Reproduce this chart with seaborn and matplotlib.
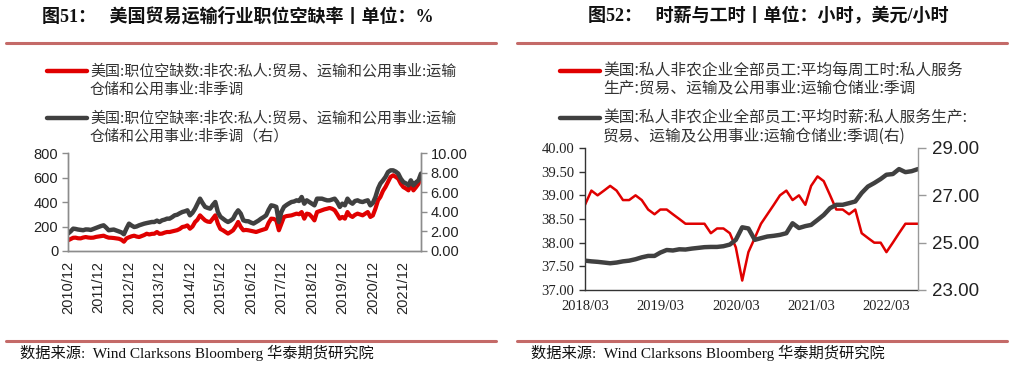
import numpy as np
import pandas as pd
import matplotlib
matplotlib.use("Agg")
import matplotlib.pyplot as plt
import matplotlib.dates as mdates
from matplotlib.lines import Line2D
import seaborn as sns

# ---------------- data ----------------
# left: monthly, 2010/12 .. 2022/07
openings_start = "2010-12-01"
openings = [
    87, 98, 108, 109, 104, 103, 110, 114, 110, 108, 109, 115,
    118, 122, 125, 116, 109, 108, 106, 103, 100, 92, 76, 103,
    112, 120, 125, 118, 114, 122, 130, 141, 135, 140, 141, 155,
    140, 142, 150, 155, 155, 160, 165, 170, 180, 196, 200, 209,
    182, 200, 237, 255, 291, 270, 250, 240, 237, 265, 291, 223,
    180, 169, 155, 142, 155, 169, 200, 237, 196, 169, 172, 169,
    165, 160, 155, 162, 169, 175, 182, 230, 264, 262, 250, 169,
    223, 278, 285, 288, 291, 298, 305, 300, 318, 264, 305, 300,
    278, 250, 318, 325, 332, 340, 345, 351, 345, 332, 300, 264,
    278, 264, 318, 290, 278, 295, 305, 298, 291, 305, 318, 278,
    290, 346, 414, 441, 490, 522, 563, 604, 618, 605, 590, 549,
    522, 510, 495, 549, 495, 520, 549, 604,
]
vacancy_rate = [
    1.78, 2.00, 2.28, 2.25, 2.19, 2.15, 2.12, 2.20, 2.19, 2.15, 2.25, 2.35,
    2.45, 2.55, 2.62, 2.40, 2.12, 2.15, 2.19, 2.10, 2.00, 1.90, 1.71, 2.30,
    2.79, 2.60, 2.45, 2.50, 2.62, 2.70, 2.79, 2.85, 2.90, 2.96, 2.96, 3.10,
    2.96, 3.13, 3.20, 3.30, 3.30, 3.45, 3.64, 3.70, 3.85, 3.98, 4.05, 4.15,
    3.64, 3.90, 4.32, 4.80, 5.34, 4.90, 4.50, 4.40, 4.32, 4.70, 5.00, 3.98,
    3.50, 3.30, 3.10, 2.96, 3.10, 3.30, 3.80, 4.15, 3.81, 3.13, 3.05, 3.03,
    2.90, 2.80, 2.96, 3.10, 3.30, 3.45, 3.64, 4.20, 4.66, 4.60, 4.50, 2.96,
    3.98, 4.50, 4.70, 4.85, 5.00, 5.05, 5.17, 5.10, 5.51, 4.83, 5.17, 5.00,
    4.83, 4.66, 5.34, 5.34, 5.34, 5.25, 5.17, 5.17, 5.25, 5.34, 5.00, 4.50,
    4.83, 4.66, 5.34, 5.00, 4.83, 5.10, 5.17, 5.05, 5.00, 5.10, 5.17, 4.66,
    4.90, 5.51, 6.37, 6.88, 7.20, 7.55, 8.06, 8.23, 8.23, 8.10, 7.90, 7.38,
    7.04, 6.90, 6.70, 7.21, 6.70, 7.00, 7.21, 7.90,
]
left_ticks = ["2010/12", "2011/12", "2012/12", "2013/12", "2014/12", "2015/12",
              "2016/12", "2017/12", "2018/12", "2019/12", "2020/12", "2021/12"]

# right: monthly, 2018/03 .. 2022/08
hours_start = "2018-03-01"
weekly_hours = [
    38.8, 39.1, 39.0, 39.1, 39.2, 39.1, 38.9, 38.9, 39.0, 38.9, 38.7, 38.6,
    38.7, 38.7, 38.6, 38.5, 38.4, 38.4, 38.4, 38.4, 38.2, 38.3, 38.3, 38.2,
    37.9, 37.2, 37.8, 38.1, 38.4, 38.6, 38.8, 39.0, 39.1, 38.9, 39.0, 38.8,
    39.2, 39.4, 39.3, 39.0, 38.7, 38.7, 38.6, 38.7, 38.2, 38.1, 38.0, 38.0,
    37.8, 38.0, 38.2, 38.4, 38.4, 38.4,
]
hourly_wage = [
    24.24, 24.21, 24.19, 24.16, 24.13, 24.16, 24.21, 24.24, 24.30, 24.38, 24.44, 24.44,
    24.58, 24.69, 24.67, 24.72, 24.71, 24.75, 24.78, 24.81, 24.82, 24.82, 24.85, 24.92,
    25.12, 25.65, 25.60, 25.12, 25.19, 25.26, 25.29, 25.33, 25.40, 25.82, 25.62, 25.70,
    25.75, 25.96, 26.17, 26.46, 26.60, 26.60, 26.67, 26.74, 27.10, 27.37, 27.52, 27.69,
    27.87, 27.90, 28.11, 27.98, 28.02, 28.11,
]
right_ticks = ["2018/03", "2019/03", "2020/03", "2021/03", "2022/03"]

title_left = "图51：   美国贸易运输行业职位空缺率丨单位：%"
title_right = "图52：   时薪与工时丨单位：小时，美元/小时"
legend_left = [["美国:职位空缺数:非农:私人:贸易、运输和公用事业:运输", "仓储和公用事业:非季调"],
               ["美国:职位空缺率:非农:私人:贸易、运输和公用事业:运输", "仓储和公用事业:非季调（右）"]]
legend_right = [["美国:私人非农企业全部员工:平均每周工时:私人服务", "生产:贸易、运输及公用事业:运输仓储业:季调"],
                ["美国:私人非农企业全部员工:平均时薪:私人服务生产:", "贸易、运输及公用事业:运输仓储业:季调(右)"]]
source = "数据来源:  Wind Clarksons Bloomberg 华泰期货研究院"

RED = "#e00000"
DARK = "#404040"
RULE = "#c46a68"

sns.set_style("white")
plt.rcParams["font.family"] = ["Liberation Sans", "Noto Sans CJK SC"]
CJK = ["Noto Sans CJK SC", "DejaVu Sans"]
SERIF = ["Liberation Serif", "Noto Sans CJK SC"]
SANS = ["Liberation Sans", "Noto Sans CJK SC"]

W, H = 1014, 367
fig = plt.figure(figsize=(W / 100, H / 100), dpi=100)


def box(x0, y0, x1, y1):
    return [x0 / W, 1 - y1 / H, (x1 - x0) / W, (y1 - y0) / H]


def px(x, y):
    return x / W, 1 - y / H


def frame(x0, x1, title, tx, labels, colors, lx, lsize):
    fig.text(*px(tx, 16), title, family=SERIF, fontsize=13, fontweight="bold",
             ha="center", va="center", color="#111111")
    fig.add_artist(Line2D([x0 / W, x1 / W], [1 - 43 / H] * 2, color=RULE, lw=2.2))
    fig.add_artist(Line2D([x0 / W, x1 / W], [1 - 341 / H] * 2, color=RULE, lw=2.2))
    fig.text(*px(x0 + 14, 353), source, family=SERIF, fontsize=11,
             ha="left", va="center", color="#111111")
    for lines, c, y in zip(labels, colors, [71, 118]):
        fig.add_artist(Line2D([lx / W, (lx + 40) / W], [1 - y / H] * 2,
                              color=c, lw=3.2, solid_capstyle="round"))
        for k, line in enumerate(lines):
            fig.text(*px(lx + 43, y + 18 * k), line, family=CJK, fontsize=lsize,
                     ha="left", va="center", color="#333333")


# ---------------- left panel ----------------
frame(6, 496, title_left, 238, legend_left, [RED, DARK], 47, 10.8)
d_left = pd.date_range(openings_start, periods=len(openings), freq="MS")
ax = fig.add_axes(box(68, 153, 421, 251))
sns.lineplot(x=d_left, y=openings, ax=ax, color=RED, lw=3.0)
ax2 = ax.twinx()
sns.lineplot(x=d_left, y=vacancy_rate, ax=ax2, color=DARK, lw=3.2)
ax.set_xlim(d_left[0], d_left[-1])
ax.set_ylim(0, 800)
ax.set_yticks([0, 200, 400, 600, 800])
ax2.set_ylim(0, 10)
ax2.set_yticks([0, 2, 4, 6, 8, 10])
ax2.set_yticklabels([f"{v:.2f}" for v in [0, 2, 4, 6, 8, 10]])
lt = pd.to_datetime(left_ticks, format="%Y/%m")
ax.set_xticks(lt)
ax.set_xticklabels(left_ticks, rotation=90)
for a in (ax, ax2):
    a.set_xlabel("")
    a.set_ylabel("")
    for s in a.spines.values():
        s.set_color("#8c8c8c")
        s.set_linewidth(1.0)
    a.spines["top"].set_visible(False)
    a.tick_params(colors="#8c8c8c", labelcolor="#222222", labelsize=10.5,
                  length=4, width=1, direction="out")
ax.tick_params(axis="y", pad=3)
ax2.tick_params(axis="y", pad=3)
ax.tick_params(axis="x", pad=3)

# ---------------- right panel ----------------
frame(517, 1007, title_right, 768, legend_right, [RED, DARK], 560, 11.3)
d_right = pd.date_range(hours_start, periods=len(weekly_hours), freq="MS")
bx = fig.add_axes(box(585, 148, 918, 290))
sns.lineplot(x=d_right, y=weekly_hours, ax=bx, color=RED, lw=1.8)
bx2 = bx.twinx()
sns.lineplot(x=d_right, y=hourly_wage, ax=bx2, color=DARK, lw=3.2)
bx.set_xlim(d_right[0], d_right[-1])
bx.set_ylim(37, 40)
yl = np.arange(37, 40.01, 0.5)
bx.set_yticks(yl)
bx.set_yticklabels([f"{v:.2f}" for v in yl], family=SERIF)
bx2.set_ylim(23, 29)
yr = [23, 25, 27, 29]
bx2.set_yticks(yr)
bx2.set_yticklabels([f"{v:.2f}" for v in yr], family=SANS)
rt = pd.to_datetime(right_ticks, format="%Y/%m")
bx.set_xticks(rt)
bx.set_xticklabels(right_ticks, family=SERIF)
for a in (bx, bx2):
    a.set_xlabel("")
    a.set_ylabel("")
    a.spines["top"].set_visible(False)
    for s in a.spines.values():
        s.set_linewidth(1.0)
bx.spines["left"].set_color("#333333")
bx.spines["bottom"].set_color("#333333")
bx2.spines["right"].set_color("#999999")
bx2.spines["left"].set_visible(False)
bx2.spines["bottom"].set_visible(False)
bx.spines["right"].set_visible(False)
bx.tick_params(colors="#333333", labelcolor="#222222", labelsize=10.5,
               length=4, width=1, direction="out")
bx2.tick_params(colors="#999999", labelcolor="#222222", labelsize=13.5,
                length=6, width=1, direction="out", pad=4)

fig.savefig("out.png", dpi=100, facecolor="white")
